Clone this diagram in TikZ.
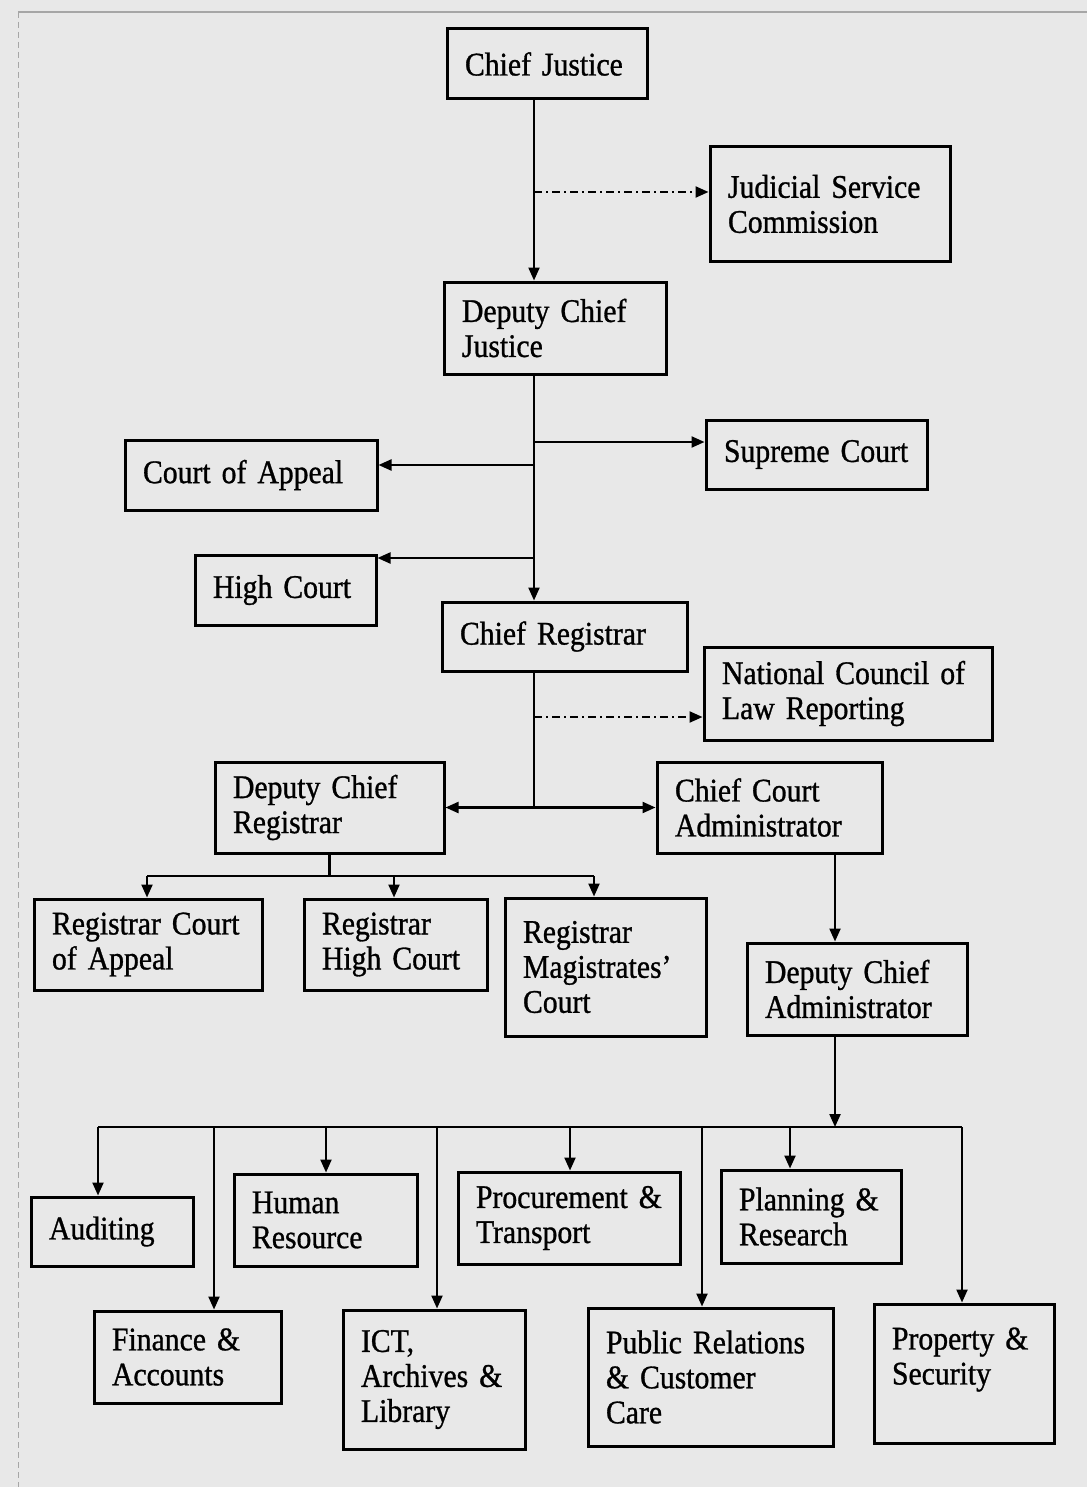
\documentclass[tikz,border=0pt]{standalone}
\usepackage{fontspec}
\setmainfont[FakeStretch=0.9,FakeBold=0.9]{Liberation Serif}
\usetikzlibrary{arrows.meta}

\tikzset{
  orgbox/.style={draw, line width=1.5pt, align=left, inner xsep=9pt, inner ysep=2pt,
    font={\fontsize{16.5}{17.5}\selectfont\fontdimen2\font=2.6pt}},
  box/.code 2 args={\pgfmathsetlengthmacro\boxtw{#1*0.5pt-16pt}%
    \tikzset{orgbox, minimum width=#1*0.5pt, minimum height=#2*0.5pt, text width=\boxtw}},
  link/.style={line width=1.1pt},
  arr/.style={link, -{Triangle[length=6.5pt,width=5.5pt]}},
  dotlink/.style={arr, dash pattern=on 4pt off 2pt on 1pt off 2pt}
}

\begin{document}
\begin{tikzpicture}[x=0.5pt,y=-0.5pt]
    \useasboundingbox (0,0) rectangle (1087,1487);
    \fill[black!9] (0,0) rectangle (1087,1487);
    \draw[black!35, line width=0.8pt] (18,12) -- (1087,12);
    \draw[black!35, densely dashed] (18,12) -- (18,1487);

    % top of the judiciary
    \node[box={196}{70}]  (cj)   at (547,64)     {Chief Justice};
    \node[box={236}{114}] (jsc)  at (830,204)    {Judicial Service\\Commission};
    \node[box={218}{92}]  (dcj)  at (555,328)    {Deputy Chief\\Justice};
    \node[box={217}{69}]  (sc)   at (816.5,454.5) {Supreme Court};
    \node[box={248}{70}]  (coa)  at (251,475)    {Court of Appeal};
    \node[box={177}{70}]  (hc)   at (285.5,590)  {High Court};
    \node[box={241}{69}]  (cr)   at (564.5,636.5) {Chief Registrar};
    \node[box={284}{93}]  (nclr) at (848,693.5)  {National Council of\\Law Reporting};
    \node[box={225}{91}]  (dcr)  at (329.5,807.5) {Deputy Chief\\Registrar};
    \node[box={221}{91}]  (cca)  at (769.5,807.5) {Chief Court\\Administrator};

    % registrars
    \node[box={224}{91}]  (rca)  at (148,944.5)  {Registrar Court\\of Appeal};
    \node[box={179}{91}]  (rhc)  at (395.5,944.5) {Registrar\\High Court};
    \node[box={197}{138}] (rmc)  at (605.5,967)  {Registrar\\Magistrates'\\Court};
    \node[box={216}{92}]  (dca)  at (857,989)    {Deputy Chief\\Administrator};

    % directorates
    \node[box={158}{69}]  (aud)  at (112,1231.5) {Auditing};
    \node[box={179}{92}]  (hr)   at (325.5,1220) {Human\\Resource};
    \node[box={218}{92}]  (pt)   at (569,1218)   {Procurement \&\\Transport};
    \node[box={176}{93}]  (plan) at (811,1216.5) {Planning \&\\Research};
    \node[box={183}{92}]  (fa)   at (187.5,1357) {Finance \&\\Accounts};
    \node[box={178}{139}] (ict)  at (434,1379.5) {ICT,\\Archives \&\\Library};
    \node[box={241}{138}] (prc)  at (710.5,1377) {Public Relations\\\& Customer\\Care};
    \node[box={176}{139}] (ps)   at (964,1373.5) {Property \&\\Security\\~};

    % main line
    \coordinate (spine) at (534,0);
    \draw[arr] (spine |- cj.south) -- (spine |- dcj.north);
    \coordinate (jscjoin) at (534,192);
    \draw[dotlink] (jscjoin) -- (jscjoin -| jsc.west);
    \draw[arr] (spine |- dcj.south) -- (spine |- cr.north);
    \coordinate (scjoin) at (534,442);
    \draw[arr] (scjoin) -- (scjoin -| sc.west);
    \coordinate (coajoin) at (534,465);
    \draw[arr] (coajoin) -- (coajoin -| coa.east);
    \coordinate (hcjoin) at (534,558);
    \draw[arr] (hcjoin) -- (hcjoin -| hc.east);
    \coordinate (nclrjoin) at (534,717);
    \draw[dotlink] (nclrjoin) -- (nclrjoin -| nclr.west);
    \draw[link] (spine |- cr.south) -- (spine |- dcr.east);
    \draw[arr] (spine |- dcr.east) -- (dcr.east);
    \draw[arr] (spine |- cca.west) -- (cca.west);

    % registrars
    \coordinate (regbus) at (329,876);
    \draw[link] (dcr.south) -- (dcr.south |- regbus);
    \draw[link] (147,876) -- (594,876);
    \foreach \x/\n in {147/rca,394/rhc,594/rmc}
        \draw[arr] (\x,876) -- (\x,876 |- \n.north);

    % administration
    \coordinate (admin) at (835,0);
    \draw[arr] (admin |- cca.south) -- (admin |- dca.north);
    \draw[arr] (admin |- dca.south) -- (835,1127);
    \draw[link] (98,1127) -- (962,1127);
    \foreach \x/\n in {98/aud,214/fa,326/hr,437/ict,570/pt,702/prc,790/plan,962/ps}
        \draw[arr] (\x,1127) -- (\x,1127 |- \n.north);
\end{tikzpicture}
\end{document}
